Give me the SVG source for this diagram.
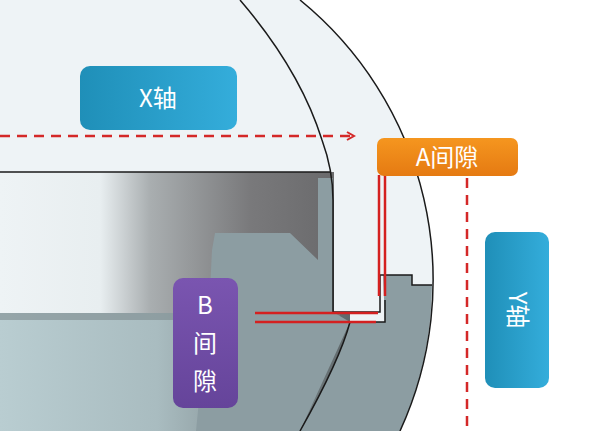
<svg xmlns="http://www.w3.org/2000/svg" width="600" height="431" viewBox="0 0 600 431">
<defs>
<linearGradient id="dk" x1="0" x2="1" y1="0" y2="0"><stop offset="0" stop-color="#eef3f5"/><stop offset="0.3" stop-color="#e8eef0"/><stop offset="0.45" stop-color="#a9aeb0"/><stop offset="0.75" stop-color="#79797b"/><stop offset="1" stop-color="#6a6a6c"/></linearGradient>
<linearGradient id="lw" x1="0" x2="1" y1="0" y2="0"><stop offset="0" stop-color="#b9cdd1"/><stop offset="0.45" stop-color="#a9bcc0"/><stop offset="1" stop-color="#5f676a"/></linearGradient>
<linearGradient id="bl" x1="0" x2="1"><stop offset="0" stop-color="#1f8fb8"/><stop offset="1" stop-color="#34addb"/></linearGradient>
<linearGradient id="or" x1="0" x2="0" y1="0" y2="1"><stop offset="0" stop-color="#f5961f"/><stop offset="1" stop-color="#e57a12"/></linearGradient>
<linearGradient id="pu" x1="0" x2="0" y1="0" y2="1"><stop offset="0" stop-color="#7a55b0"/><stop offset="1" stop-color="#65449a"/></linearGradient>
<marker id="ah" markerWidth="10" markerHeight="10" refX="8" refY="5" orient="auto" markerUnits="userSpaceOnUse"><path d="M1,1 L8,5 L1,9" fill="none" stroke="#d42828" stroke-width="2"/></marker>
<style>
.ln{fill:none;stroke:#1a1a1a;stroke-width:1.5}
.rd{stroke:#d42020;stroke-width:2.5;fill:none}
.dash{stroke:#d42828;stroke-width:2.5;stroke-dasharray:10 7;fill:none}
.t{font-family:"Noto Sans CJK SC","Noto Sans",sans-serif;fill:#fff;font-size:24px;text-anchor:middle}
</style>
</defs>
<rect width="600" height="431" fill="#ffffff"/>
<path d="M0,0 L300,0 A361,361 0 0 1 400,431 L0,431 Z" fill="#eef3f6"/>
<rect x="0" y="172" width="334" height="143" fill="url(#dk)"/>
<rect x="0" y="313" width="350" height="118" fill="url(#lw)"/>
<rect x="0" y="313" width="340" height="7" fill="#7d8a8e" opacity="0.6"/>
<path d="M318,178 L333,178 L333,312 L350,322 L300,431 L196,431 L210,290 L212,250 L215,233 L290,233 L318,260 Z" fill="#8c9da2"/>
<path d="M383,275 L412,275 L412,285 L432,285 A361,361 0 0 1 400,431 L300,431 Q340,360 350,322 L385,322 Z" fill="#8c9da2"/>
<g id="outline">
<path class="ln" d="M300,0 A361,361 0 0 1 400,431"/>
<path class="ln" d="M240,0 Q300,70 322,140 Q333,170 333,200 L333,312 L380,312 L380,275 L412,275 L412,285 L432,285"/>
<path class="ln" d="M300,431 Q340,360 350,322 L385,322 L385,300"/>
<line class="ln" x1="0" y1="172" x2="330" y2="172" stroke="#d0d6d8"/>
</g>
<g id="connectors">
<line class="dash" x1="0" y1="136" x2="354" y2="136" marker-end="url(#ah)"/>
<line class="dash" x1="467" y1="178" x2="467" y2="431"/>
<line class="rd" x1="379" y1="175" x2="379" y2="296"/>
<line class="rd" x1="385" y1="175" x2="385" y2="296"/>
<line class="rd" x1="255" y1="313" x2="378" y2="313"/>
<line class="rd" x1="255" y1="322" x2="376" y2="322"/>
</g>
<g id="x-axis"><rect x="80" y="66" width="157" height="64" rx="10" fill="url(#bl)"/><text class="t" x="158" y="107">X轴</text></g>
<g id="a-gap"><rect x="377" y="138" width="141" height="38" rx="7" fill="url(#or)"/><text class="t" x="447" y="166">A间隙</text></g>
<g id="y-axis"><rect x="485" y="232" width="64" height="156" rx="10" fill="url(#bl)"/><text class="t" transform="translate(517,310) rotate(90)" y="8">Y轴</text></g>
<g id="b-gap"><rect x="173" y="278" width="65" height="130" rx="10" fill="url(#pu)"/><text class="t" x="205" y="314">B</text><text class="t" x="205" y="352">间</text><text class="t" x="205" y="390">隙</text></g>
</svg>
